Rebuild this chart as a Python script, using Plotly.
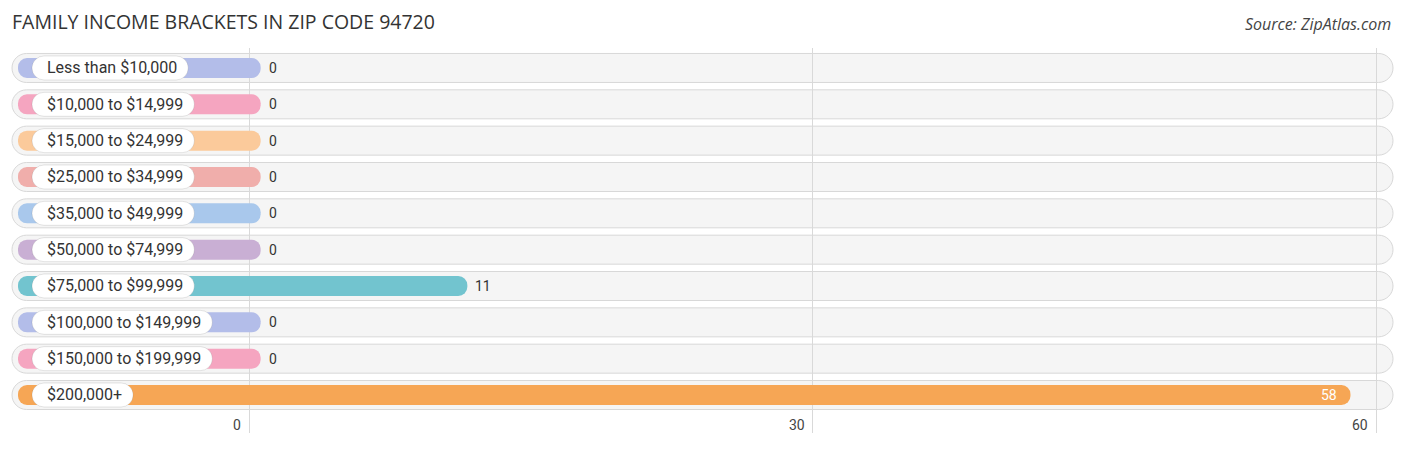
import plotly.graph_objects as go

# data
categories = ["Less than $10,000", "$10,000 to $14,999", "$15,000 to $24,999",
              "$25,000 to $34,999", "$35,000 to $49,999", "$50,000 to $74,999",
              "$75,000 to $99,999", "$100,000 to $149,999", "$150,000 to $199,999",
              "$200,000+"]
values = [0, 0, 0, 0, 0, 0, 11, 0, 0, 58]
colors = ["#b3bde9", "#f5a5c0", "#fbca9b", "#f0aeab", "#a9c8ec",
          "#c9afd4", "#72c4cf", "#b3bde9", "#f5a5c0", "#f6a655"]
tick_vals = [0, 30, 60]

W, H = 1406, 450
PX = 18.79            # pixels per unit
ZERO = 249            # pixel of x=0
x_lo = -ZERO / PX
x_hi = (W - ZERO) / PX
u = lambda p: (p - ZERO) / PX   # pixel -> data

BAR_START = u(18)
CAP = 0.62
PILL_L = u(32)
rows = list(range(len(categories)))

# rough Roboto advance widths (em) to size the label pills
cw = {"$": .5615, ",": .196, " ": .248, "+": .567, "t": .327, "o": .570,
      "L": .539, "e": .530, "s": .516, "h": .552, "a": .544, "n": .553}
def text_w(s, size=16):
    return sum(cw.get(c, .5615) for c in s) * size

fig = go.Figure()

# colored bars
fig.add_trace(go.Bar(
    y=rows, x=[v + CAP - BAR_START for v in values], base=BAR_START,
    orientation="h", width=0.55, marker=dict(color=colors, cornerradius=10, line_width=0),
    hoverinfo="skip"))

# white label pills
fig.add_trace(go.Bar(
    y=rows, x=[(text_w(c) + 26) / PX for c in categories], base=PILL_L,
    orientation="h", width=0.66,
    marker=dict(color="white", cornerradius=12, line=dict(color="rgba(0,0,0,0.10)", width=1)),
    hoverinfo="skip"))

# background row pills (below the grid)
x0, x1 = u(12), u(1393)
rx, h, k = 14.5 / PX, 14.5, 0.5523
a, b = x0 + rx, x1 - rx
path = (f"M {a},{h} L {b},{h} C {b+k*rx},{h} {x1},{k*h} {x1},0 "
        f"C {x1},{-k*h} {b+k*rx},{-h} {b},{-h} L {a},{-h} "
        f"C {a-k*rx},{-h} {x0},{-k*h} {x0},0 C {x0},{k*h} {a-k*rx},{h} {a},{h} Z")
for r in rows:
    fig.add_shape(type="path", path=path, xref="x", yref="y", ysizemode="pixel",
                  yanchor=r, layer="below", fillcolor="#f5f5f5",
                  line=dict(color="#d8d8d8", width=1))

# category labels and values
for r, c, v in zip(rows, categories, values):
    fig.add_annotation(x=PILL_L, y=r, text=c, showarrow=False, xanchor="left",
                       xshift=13, font=dict(family="Roboto", size=16, color="#333333"))
    if v > 30:
        fig.add_annotation(x=v + CAP, y=r, text=str(v), showarrow=False, xanchor="right",
                           xshift=-11, font=dict(family="Roboto", size=14, color="white"))
    else:
        fig.add_annotation(x=v + CAP, y=r, text=str(v), showarrow=False, xanchor="left",
                           xshift=6, font=dict(family="Roboto", size=14, color="#333333"))

# tick labels
for t in tick_vals:
    fig.add_annotation(x=t, y=9.83, text=str(t), showarrow=False, xanchor="right",
                       xshift=-6, font=dict(family="Roboto", size=14, color="#444444"))

fig.add_annotation(x=1393 / W, xref="paper", y=(433 - 24) / 385, yref="paper",
                   text="<i>Source: ZipAtlas.com</i>", showarrow=False, xanchor="right",
                   yanchor="middle", font=dict(family="Open Sans", size=16, color="#444444"))

fig.update_layout(
    width=W, height=H, barmode="overlay", showlegend=False,
    margin=dict(l=0, r=0, t=48, b=17),
    paper_bgcolor="white", plot_bgcolor="white",
    title=dict(text="FAMILY INCOME BRACKETS IN ZIP CODE 94720", x=12 / W, xref="container",
               xanchor="left", y=1 - 22 / H, yanchor="middle",
               font=dict(family="Open Sans", size=19.5, color="#333333")),
    xaxis=dict(range=[x_lo, x_hi], tickvals=tick_vals, showticklabels=False,
               showgrid=True, gridcolor="#d9d9d9", gridwidth=1, zeroline=False, fixedrange=True),
    yaxis=dict(range=[len(rows) - 1 + 1.046, -0.55], showticklabels=False, showgrid=False,
               zeroline=False, fixedrange=True),
)

fig.write_html("out.html", config={"displayModeBar": False},
               post_script="document.body.style.margin='0';")
